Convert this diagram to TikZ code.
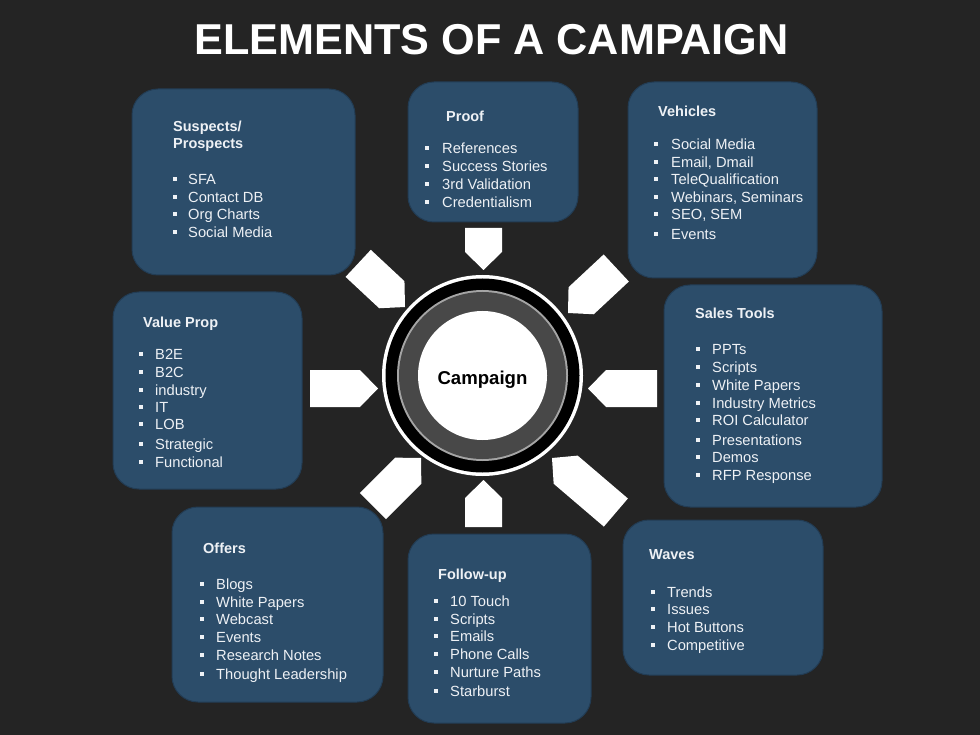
\documentclass[tikz,border=0pt]{standalone}
\usepackage{fontspec}
\setmainfont{Liberation Sans}
\definecolor{bg}{RGB}{36,36,36}
\definecolor{boxblue}{RGB}{44,77,106}
\definecolor{boxedge}{RGB}{34,60,84}
\definecolor{txt}{RGB}{238,241,245}
\definecolor{ringgray}{RGB}{72,72,72}
\definecolor{ringline}{RGB}{165,165,165}
\tikzset{
  panel/.style={fill=boxblue, draw=boxedge, line width=1pt, rounded corners=26pt, inner sep=0pt, rectangle},
  ttl/.style={anchor=base west, inner sep=0pt, text=txt, font=\fontsize{14.5}{17}\selectfont\bfseries},
  itm/.style={anchor=base west, inner sep=0pt, text=txt, font=\fontsize{14.7}{17}\selectfont},
  blt/.style={fill=txt, draw=none, minimum size=4.2pt, inner sep=0pt, rectangle},
  plate/.style={fill=white, draw=none},
  disc/.style={circle, inner sep=0pt, draw=none},
}
\newcommand\blist[4]{%
  \foreach \yy/\tx [count=\i] in {#4} {
    \node[blt] (#1b\i) at (#2,\yy) {};
    \node[itm] (#1t\i) at (#3,\yy+5.2) {\tx};
  }}
\newcommand\plate[4]{%
  \fill[plate, shift={(#1,#2)}, rotate=#3] (0,0) -- (-18,18.5) -- (-#4,18.5) -- (-#4,-18.5) -- (-18,-18.5) -- cycle;}
\begin{document}
\begin{tikzpicture}[x=1pt, y=-1pt]
\fill[bg] (0,0) rectangle (980,735);
\useasboundingbox (0,0) rectangle (980,735);

\node[font=\fontsize{43.2}{50}\selectfont\bfseries, text=white, inner sep=0pt] (title) at (491.5,40) {ELEMENTS OF A CAMPAIGN};

% panels
\node[panel, minimum width=223pt, minimum height=186pt] (sus) at (243.5,182) {};
\node[panel, minimum width=170pt, minimum height=140pt] (proof) at (493,152) {};
\node[panel, minimum width=189pt, minimum height=196pt] (veh) at (722.5,180) {};
\node[panel, minimum width=189pt, minimum height=197pt] (val) at (207.5,390.5) {};
\node[panel, minimum width=218pt, minimum height=222pt] (sales) at (773,396) {};
\node[panel, minimum width=211pt, minimum height=195pt] (off) at (277.5,604.5) {};
\node[panel, minimum width=183pt, minimum height=189pt] (fol) at (499.5,628.5) {};
\node[panel, minimum width=200pt, minimum height=155pt] (wav) at (723,597.5) {};

% Suspects / Prospects
\node[ttl] (sust1) at (173,131.2) {Suspects/};
\node[ttl] (sust2) at (173,148.2) {Prospects};
\blist{sus}{175}{188}{179/SFA, 197/Contact DB, 214/Org Charts, 232/Social Media}

% Proof
\node[ttl] (prooft) at (446,121.2) {Proof};
\blist{proof}{427}{442}{148/References, 166/Success Stories, 184/3rd Validation, 202/Credentialism}

% Vehicles
\node[ttl] (veht) at (658,116.2) {Vehicles};
\blist{veh}{656}{671}{144/Social Media, 162/{Email, Dmail}, 179/TeleQualification, 197/{Webinars, Seminars}, 214/{SEO, SEM}, 234/Events}

% Value Prop
\node[ttl] (valt) at (143,327.2) {Value Prop};
\blist{val}{141}{155}{354/B2E, 372/B2C, 390/industry, 407/IT, 424/LOB, 444/Strategic, 462/Functional}

% Sales Tools
\node[ttl] (salest) at (695,318.2) {Sales Tools};
\blist{sales}{698}{712}{349/PPTs, 367/Scripts, 385/White Papers, 403/Industry Metrics, 420/ROI Calculator, 440/Presentations, 457/Demos, 475/RFP Response}

% Offers
\node[ttl] (offt) at (203,553.2) {Offers};
\blist{off}{202}{216}{584/Blogs, 602/White Papers, 619/Webcast, 637/Events, 655/Research Notes, 674/Thought Leadership}

% Follow-up
\node[ttl] (folt) at (438,579.2) {Follow-up};
\blist{fol}{436}{450}{601/10 Touch, 619/Scripts, 636/Emails, 654/Phone Calls, 672/Nurture Paths, 691/Starburst}

% Waves
\node[ttl] (wavt) at (649,559.2) {Waves};
\blist{wav}{653}{667}{592/Trends, 609/Issues, 627/Hot Buttons, 645/Competitive}

% pointers toward the hub
\plate{483.5}{270}{-90}{42}
\plate{483.5}{480}{90}{47}
\plate{378}{388.5}{0}{68}
\plate{588}{388.5}{180}{69}
\plate{405}{307}{-43}{64}
\plate{568}{313}{-137}{66}
\plate{421}{458}{45}{68}
\plate{552}{458}{139.5}{84}

% hub
\node[disc, fill=white, minimum size=201pt] (hubA) at (482.5,375.5) {};
\node[disc, fill=black, minimum size=194pt] (hubB) at (482.5,375.5) {};
\node[disc, fill=ringline, minimum size=171pt] (hubC) at (482.5,375.5) {};
\node[disc, fill=ringgray, minimum size=167pt] (hubD) at (482.5,375.5) {};
\node[disc, fill=white, minimum size=129pt] (hubE) at (482.5,375.5) {};
\node[font=\fontsize{18.6}{22}\selectfont\bfseries, text=black, inner sep=0pt] (camp) at (482.5,380) {Campaign};
\end{tikzpicture}
\end{document}
